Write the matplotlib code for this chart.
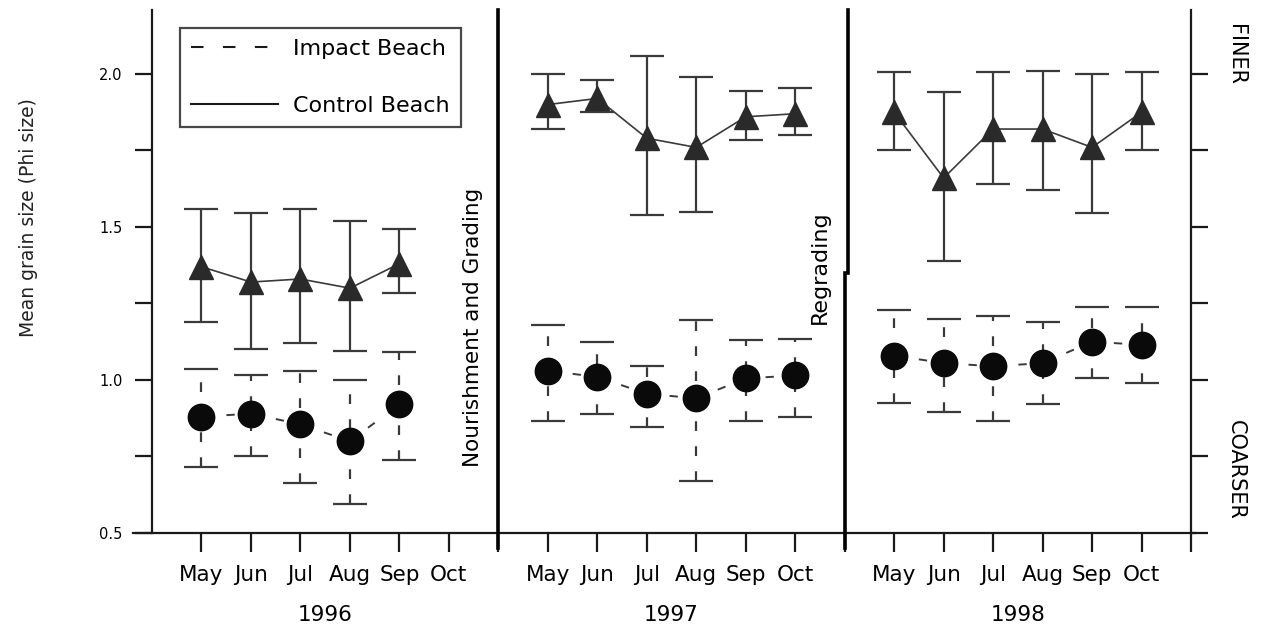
import matplotlib
matplotlib.use("Agg")
import matplotlib.pyplot as plt
from matplotlib.lines import Line2D
from matplotlib.transforms import blended_transform_factory

plt.rcParams['font.family'] = ['DejaVu Sans']
plt.rcParams['lines.scale_dashes'] = False

years = ['1996', '1997', '1998']
months = ['May', 'Jun', 'Jul', 'Aug', 'Sep', 'Oct']

# Control Beach (triangles): mean, upper and lower error bar ends
control_mean = [[1.37, 1.32, 1.33, 1.30, 1.38, None],
                [1.90, 1.92, 1.79, 1.76, 1.86, 1.87],
                [1.875, 1.66, 1.82, 1.82, 1.76, 1.875]]
control_hi = [[1.56, 1.545, 1.56, 1.52, 1.495, None],
              [2.00, 1.98, 2.06, 1.99, 1.945, 1.955],
              [2.005, 1.94, 2.005, 2.01, 2.00, 2.005]]
control_lo = [[1.19, 1.10, 1.12, 1.095, 1.285, None],
              [1.82, 1.875, 1.54, 1.55, 1.785, 1.80],
              [1.75, 1.39, 1.64, 1.62, 1.545, 1.75]]

# Impact Beach (circles)
impact_mean = [[0.88, 0.89, 0.855, 0.80, 0.92, None],
               [1.03, 1.01, 0.955, 0.94, 1.005, 1.015],
               [1.08, 1.055, 1.045, 1.055, 1.125, 1.115]]
impact_hi = [[1.035, 1.015, 1.03, 1.00, 1.09, None],
             [1.18, 1.125, 1.045, 1.195, 1.13, 1.135],
             [1.23, 1.20, 1.21, 1.19, 1.24, 1.24]]
impact_lo = [[0.715, 0.75, 0.665, 0.595, 0.74, None],
             [0.865, 0.89, 0.845, 0.67, 0.865, 0.88],
             [0.925, 0.895, 0.865, 0.92, 1.005, 0.99]]

y_ticks_major = [0.5, 1.0, 1.5, 2.0]
y_ticks_minor = [0.75, 1.25, 1.75]

fig = plt.figure(figsize=(12.61, 6.29), dpi=100)
ax = fig.add_axes([152 / 1261, (629 - 533) / 629, 1039 / 1261, 523 / 629])
ax.set_xlim(0, 21)
ax.set_ylim(0.5, 2.209)

line_col = '#3a3a3a'
for j in range(len(years)):
    xs, cm, ce_lo, ce_hi, im, ie_lo, ie_hi = [], [], [], [], [], [], []
    for i in range(len(months)):
        if control_mean[j][i] is None:
            continue
        x = 7 * j + 1 + i
        xs.append(x)
        cm.append(control_mean[j][i])
        ce_lo.append(control_mean[j][i] - control_lo[j][i])
        ce_hi.append(control_hi[j][i] - control_mean[j][i])
        im.append(impact_mean[j][i])
        ie_lo.append(impact_mean[j][i] - impact_lo[j][i])
        ie_hi.append(impact_hi[j][i] - impact_mean[j][i])
    # control
    ax.errorbar(xs, cm, yerr=[ce_lo, ce_hi], fmt='none', ecolor=line_col,
                elinewidth=1.6, capsize=12, capthick=1.6, zorder=2)
    ax.plot(xs, cm, '-', color=line_col, lw=1.2, zorder=2)
    ax.plot(xs, cm, '^', color='#2a2a2a', ms=17, mec='#2a2a2a', zorder=3,
            linestyle='none')
    # impact
    eb = ax.errorbar(xs, im, yerr=[ie_lo, ie_hi], fmt='none', ecolor=line_col,
                     elinewidth=1.6, capsize=12, capthick=1.6, zorder=2)
    eb[2][0].set_linestyle((0, (7, 11)))
    ax.plot(xs, im, color=line_col, lw=1.4, linestyle=(0, (6, 12)), zorder=2)
    ax.plot(xs, im, 'o', color='#0a0a0a', ms=19, mec='#0a0a0a', zorder=3,
            linestyle='none')

# spines
for s in ['top', 'bottom']:
    ax.spines[s].set_visible(False)
for s in ['left', 'right']:
    ax.spines[s].set_linewidth(1.6)
    ax.spines[s].set_color('#1a1a1a')
ax.axhline(0.5, xmin=-0.018, xmax=1.004, color='#1a1a1a', lw=1.6, clip_on=False)

# dividers
ax.axvline(7, ymin=-0.028, ymax=1, color='black', lw=2.6, clip_on=False)
split = (1.35 - 0.5) / (2.209 - 0.5)
ax.axvline(14.07, ymin=split, ymax=1, color='black', lw=2.6, clip_on=False)
ax.axvline(14.0, ymin=-0.028, ymax=split, color='black', lw=2.6, clip_on=False)

# ticks
xt = list(range(1, 22))
xl = []
for k in xt:
    idx = (k - 1) % 7
    xl.append(months[idx] if idx < 6 else '')
ax.set_xticks(xt)
ax.set_xticklabels(xl, fontsize=15.5)
ax.tick_params(axis='x', direction='out', length=14, width=1.6, pad=9,
               color='#1a1a1a')
ax.set_yticks(y_ticks_major)
ax.set_yticklabels(['0.5', '1.0', '1.5', '2.0'], fontsize=10.5)
ax.set_yticks(y_ticks_minor, minor=True)
ax.tick_params(axis='y', which='both', direction='out', length=12, width=1.6,
               left=True, right=True, labelright=False, pad=9, color='#1a1a1a')

ax.set_ylabel('Mean grain size (Phi size)', fontsize=13.5, color='#222222')
ax.yaxis.set_label_coords(-0.110, 0.604)

tr = blended_transform_factory(ax.transData, ax.transAxes)
for j, yr in enumerate(years):
    ax.text(7 * j + 3.5, -0.157, yr, transform=tr, ha='center', va='center',
            fontsize=15.5)

ax.text(6.49, 1.173, 'Nourishment and Grading', rotation=90, ha='center',
        va='center', fontsize=15.5)
ax.text(13.5, 1.37, 'Regrading', rotation=90, ha='center', va='center',
        fontsize=16)
ax.text(21.9, 2.062, 'FINER', rotation=-90, ha='center', va='center',
        fontsize=15, clip_on=False)
ax.text(21.9, 0.706, 'COARSER', rotation=-90, ha='center', va='center',
        fontsize=15, clip_on=False)

handles = [Line2D([], [], color='#1a1a1a', lw=1.5, linestyle=(0, (9, 14))),
           Line2D([], [], color='#1a1a1a', lw=1.5, linestyle='-')]
leg = ax.legend(handles, ['Impact Beach', 'Control Beach'], loc='upper left',
                bbox_to_anchor=(180 / 1261, 1 - 28 / 629),
                bbox_transform=fig.transFigure, fontsize=16, frameon=True,
                fancybox=False, handlelength=3.9, handletextpad=0.7,
                labelspacing=1.65, borderpad=0.5, borderaxespad=0)
leg.get_frame().set_edgecolor('#1a1a1a')
leg.get_frame().set_linewidth(1.6)

fig.savefig('out.png', dpi=100)
